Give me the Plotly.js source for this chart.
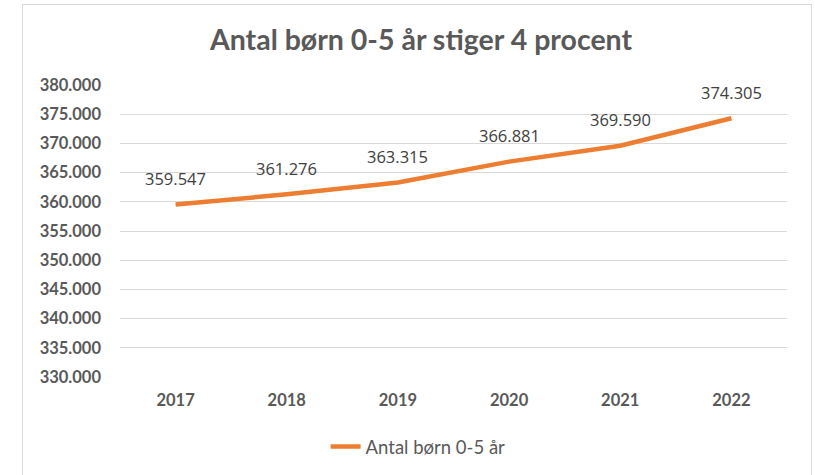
<!DOCTYPE html>
<html>
<head>
<meta charset="utf-8">
<script src="https://cdn.plot.ly/plotly-3.0.1.min.js"></script>
<style>
  html, body { margin: 0; padding: 0; background: #ffffff; }
  #wrap { position: relative; width: 815px; height: 475px; overflow: hidden; }
  #chart { position: absolute; left: 0; top: 0; width: 815px; height: 475px; }
  #frame { position: absolute; left: 22px; top: 4px; width: 788px; height: 500px;
           border: 1px solid #d9d9d9; pointer-events: none; }
</style>
</head>
<body>
<div id="wrap">
  <div id="chart"></div>
  <div id="frame"></div>
</div>
<script>
const years = ['2017', '2018', '2019', '2020', '2021', '2022'];
const children = [359547, 361276, 363315, 366881, 369590, 374305];
const seriesName = 'Antal børn 0-5 år';
const chartTitle = 'Antal børn 0-5 år stiger 4 procent';
const yTicks = [330000, 335000, 340000, 345000, 350000, 355000, 360000, 365000, 370000, 375000, 380000];

const fmt = v => String(v).replace(/\B(?=(\d{3})+(?!\d))/g, '.');

const trace = {
  x: years,
  y: children,
  type: 'scatter',
  mode: 'lines',
  name: seriesName,
  line: { color: '#ED7D31', width: 4.5 },
  hoverinfo: 'skip'
};

// category axis: annotation x given as category index
const annotations = years.map((yr, i) => ({
  x: i, y: children[i], xref: 'x', yref: 'y',
  text: fmt(children[i]), showarrow: false,
  yanchor: 'middle', xanchor: 'center', yshift: 26,
  font: { family: 'Open Sans, sans-serif', size: 16.5, color: '#404040' }
}));

const layout = {
  width: 815, height: 475,
  paper_bgcolor: '#ffffff', plot_bgcolor: '#ffffff',
  separators: ',.',
  margin: { l: 120, r: 28, t: 85, b: 98 },
  title: {
    text: chartTitle,
    font: { family: 'Lato, sans-serif', size: 28.5, color: '#595959', weight: 'bold' },
    xref: 'container', x: 0.5166, xanchor: 'center',
    yref: 'container', y: 0.916, yanchor: 'middle'
  },
  xaxis: {
    type: 'category',
    range: [-0.5, 5.5],
    showgrid: false, zeroline: false, showline: false,
    ticks: '', ticklabelstandoff: 11,
    tickfont: { family: 'Lato, sans-serif', size: 16.5, color: '#595959', weight: 'bold' }
  },
  yaxis: {
    range: [330000, 380000],
    tickvals: yTicks,
    tickformat: ',d',
    showgrid: true, gridcolor: '#d9d9d9', gridwidth: 1,
    zeroline: false, showline: false,
    ticks: '', ticklabelstandoff: 18,
    tickfont: { family: 'Lato, sans-serif', size: 16.5, color: '#595959', weight: 'bold' }
  },
  showlegend: true,
  legend: {
    orientation: 'h',
    xref: 'container', x: 0.513, xanchor: 'center',
    yref: 'container', y: 0.059, yanchor: 'middle',
    font: { family: 'Lato, sans-serif', size: 18.5, color: '#595959' },
    itemwidth: 30
  },
  annotations: annotations
};

Plotly.newPlot('chart', [trace], layout, { displayModeBar: false, staticPlot: true });
</script>
</body>
</html>
